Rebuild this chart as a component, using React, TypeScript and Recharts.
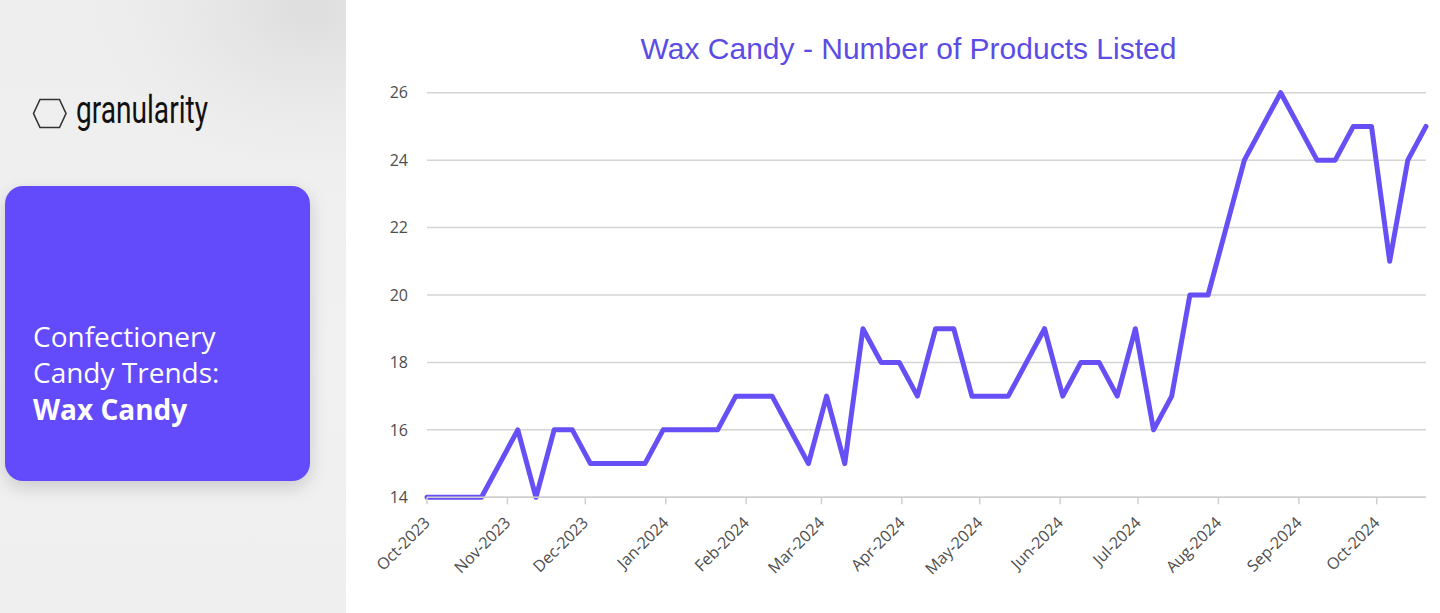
import React from "react";
import { LineChart, Line, XAxis, YAxis, CartesianGrid } from "recharts";

const weekDates: string[] = [
  "2023-10-01", "2023-10-08", "2023-10-15", "2023-10-22", "2023-10-29",
  "2023-11-05", "2023-11-12", "2023-11-19", "2023-11-26",
  "2023-12-03", "2023-12-10", "2023-12-17", "2023-12-24", "2023-12-31",
  "2024-01-07", "2024-01-14", "2024-01-21", "2024-01-28",
  "2024-02-04", "2024-02-11", "2024-02-18", "2024-02-25",
  "2024-03-03", "2024-03-10", "2024-03-17", "2024-03-24", "2024-03-31",
  "2024-04-07", "2024-04-14", "2024-04-21", "2024-04-28",
  "2024-05-05", "2024-05-12", "2024-05-19", "2024-05-26",
  "2024-06-02", "2024-06-09", "2024-06-16", "2024-06-23", "2024-06-30",
  "2024-07-07", "2024-07-14", "2024-07-21", "2024-07-28",
  "2024-08-04", "2024-08-11", "2024-08-18", "2024-08-25",
  "2024-09-01", "2024-09-08", "2024-09-15", "2024-09-22", "2024-09-29",
  "2024-10-06", "2024-10-13", "2024-10-20",
];

const productCounts: number[] = [
  14, 14, 14, 14, 15,
  16, 14, 16, 16,
  15, 15, 15, 15, 16,
  16, 16, 16, 17,
  17, 17, 16, 15,
  17, 15, 19, 18, 18,
  17, 19, 19, 17,
  17, 17, 18, 19,
  17, 18, 18, 17, 19,
  16, 17, 20, 20,
  22, 24, 25, 26,
  25, 24, 24, 25, 25,
  21, 24, 25,
];

const monthTickDates: string[] = [
  "2023-10-01", "2023-11-01", "2023-12-01", "2024-01-01", "2024-02-01",
  "2024-03-01", "2024-04-01", "2024-05-01", "2024-06-01", "2024-07-01",
  "2024-08-01", "2024-09-01", "2024-10-01",
];

const monthTickLabels: string[] = [
  "Oct-2023", "Nov-2023", "Dec-2023", "Jan-2024", "Feb-2024",
  "Mar-2024", "Apr-2024", "May-2024", "Jun-2024", "Jul-2024",
  "Aug-2024", "Sep-2024", "Oct-2024",
];

const yTicks: number[] = [14, 16, 18, 20, 22, 24, 26];

const toTs = (s: string) => new Date(s + "T00:00:00Z").getTime();

const data = weekDates.map((d, i) => ({ ts: toTs(d), value: productCounts[i] }));
const monthTicks = monthTickDates.map(toTs);
const labelByTs: Record<number, string> = {};
monthTicks.forEach((t, i) => {
  labelByTs[t] = monthTickLabels[i];
});

const PURPLE_LINE = "#6650F5";
const PURPLE_TITLE = "#5B4DE3";
const PURPLE_CARD = "#634AFB";

const XTick = (props: any) => {
  const { x, y, payload } = props;
  return (
    <g transform={`translate(${x + 4},${y + 17.5})`}>
      <text
        x={0}
        y={0}
        textAnchor="end"
        transform="rotate(-45)"
        fill="#4d4d4d"
        fontSize={16}
        fontFamily="'Open Sans', sans-serif"
      >
        {labelByTs[payload.value]}
      </text>
    </g>
  );
};

export default function App() {
  return (
    <div
      style={{
        position: "absolute",
        left: 0,
        top: 0,
        width: 1440,
        height: 613,
        background: "#ffffff",
        overflow: "hidden",
      }}
    >
      {/* Left panel */}
      <div
        style={{
          position: "absolute",
          left: 0,
          top: 0,
          width: 346,
          height: 613,
          background:
            "radial-gradient(ellipse 220px 160px at 310px 10px, #dedede 0%, #e9e9e9 55%, rgba(240,240,240,0) 100%), linear-gradient(180deg, #eeeeee 0%, #f1f1f1 60%, #efefef 100%)",
        }}
      />
      {/* Logo */}
      <svg
        style={{ position: "absolute", left: 0, top: 0 }}
        width={346}
        height={180}
      >
        <polygon
          points="33.5,113.5 40,99.5 59.5,99.5 66,113.5 59.5,127.5 40,127.5"
          fill="none"
          stroke="#333"
          strokeWidth={1.6}
        />
        <text
          x={76}
          y={122.5}
          fontSize={38}
          fontFamily="Roboto, sans-serif"
          fill="#111"
          textLength={132}
          lengthAdjust="spacingAndGlyphs"
        >
          granularity
        </text>
      </svg>
      {/* Card */}
      <div
        style={{
          position: "absolute",
          left: 5,
          top: 186,
          width: 305,
          height: 295,
          borderRadius: 18,
          background: PURPLE_CARD,
          boxShadow: "0 6px 18px rgba(0,0,0,0.16)",
        }}
      />
      <div
        style={{
          position: "absolute",
          left: 33,
          top: 317.6,
          color: "#ffffff",
          fontFamily: "'Open Sans', sans-serif",
          fontSize: 28,
          lineHeight: "36.5px",
          whiteSpace: "nowrap",
        }}
      >
        <div>Confectionery</div>
        <div>Candy Trends:</div>
        <div style={{ fontWeight: 700 }}>Wax Candy</div>
      </div>
      {/* Title */}
      <div
        style={{
          position: "absolute",
          left: 508.5,
          top: 33.6,
          width: 800,
          textAlign: "center",
          fontFamily: "'Liberation Sans', Arial, sans-serif",
          fontSize: 30,
          lineHeight: "30px",
          color: PURPLE_TITLE,
          whiteSpace: "nowrap",
        }}
      >
        Wax Candy - Number of Products Listed
      </div>
      {/* Chart */}
      <div style={{ position: "absolute", left: 347, top: 0 }}>
        <LineChart
          width={1093}
          height={613}
          data={data}
          margin={{ top: 92.7, right: 14, bottom: 15.7, left: 20 }}
        >
          <CartesianGrid
            vertical={false}
            stroke="#d4d4d4"
            strokeWidth={1.5}
          />
          <XAxis
            dataKey="ts"
            type="number"
            scale="time"
            domain={[toTs("2023-10-01"), toTs("2024-10-20")]}
            ticks={monthTicks}
            interval={0}
            height={100}
            tickSize={7}
            tickMargin={2}
            axisLine={{ stroke: "#cfcfcf", strokeWidth: 1.5 }}
            tickLine={{ stroke: "#cfcfcf", strokeWidth: 1.5 }}
            tick={<XTick />}
          />
          <YAxis
            type="number"
            domain={[14, 26]}
            ticks={yTicks}
            width={60}
            axisLine={false}
            tickLine={false}
            tickSize={0}
            tickMargin={19}
            tick={{ fill: "#4d4d4d", fontSize: 16, fontFamily: "'Open Sans', sans-serif" }}
          />
          <Line
            type="linear"
            dataKey="value"
            stroke={PURPLE_LINE}
            strokeWidth={5}
            dot={false}
            strokeLinejoin="round"
            strokeLinecap="round"
            isAnimationActive={false}
          />
        </LineChart>
      </div>
    </div>
  );
}
